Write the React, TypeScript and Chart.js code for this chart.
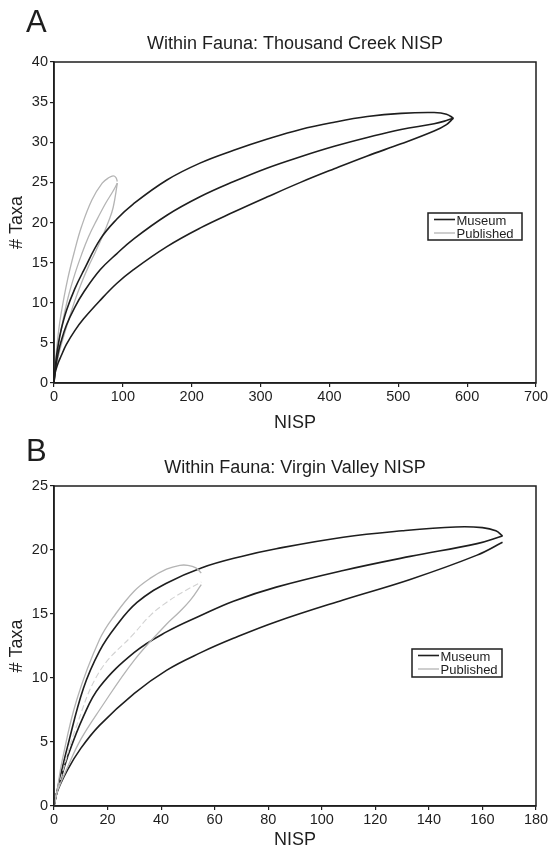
import React, { useEffect, useRef } from "react";
import { Chart, registerables } from "chart.js";

Chart.register(...registerables);

const FONT = "'Liberation Sans', Arial, Helvetica, sans-serif";
const INK = "#1e1e1e";
const GRAY = "#b4b4b4";
const GRAY_LIGHT = "#d2d2d2";

// ---------- Panel A: Thousand Creek ----------
const titleA = "Within Fauna: Thousand Creek NISP";
const xTicksA = { min: 0, max: 700, step: 100 };
const yTicksA = { min: 0, max: 40, step: 5 };

const nispA_museum = [0, 1, 3, 6, 10, 18, 30, 43, 67, 91, 115, 164, 212, 261, 310, 358, 407, 455, 504, 552, 570, 580];
const taxaA_museumUpper = [0, 1, 2.9, 4.7, 6.5, 9.0, 11.7, 14.0, 17.9, 20.4, 22.3, 25.3, 27.4, 29.0, 30.4, 31.6, 32.5, 33.2, 33.6, 33.7, 33.5, 33.0];
const taxaA_museumMean = [0, 1, 2.3, 3.7, 5.1, 7.2, 9.4, 11.3, 14.1, 16.1, 17.9, 20.9, 23.2, 25.1, 26.8, 28.2, 29.5, 30.6, 31.6, 32.3, 32.7, 33.0];
const taxaA_museumLower = [0, 1, 1.7, 2.5, 3.3, 4.8, 6.5, 8.0, 10.3, 12.4, 14.1, 17.0, 19.3, 21.3, 23.2, 25.0, 26.7, 28.3, 29.8, 31.4, 32.2, 33.0];

const nispA_pubUpper = [0, 1, 3, 6, 10, 20, 30, 40, 55, 70, 80, 86, 90, 92];
const taxaA_pubUpper = [0, 1, 3.5, 6, 8.5, 13, 16.5, 19.5, 22.8, 24.9, 25.6, 25.8, 25.6, 25.1];
const nispA_pubMean = [0, 1, 3, 6, 10, 20, 30, 40, 50, 62, 75, 85, 92];
const taxaA_pubMean = [0, 1, 2.6, 4.5, 6.5, 10.5, 13.5, 16, 18.2, 20.3, 22.4, 23.8, 24.9];
const nispA_pubLower = [0, 1, 3, 6, 10, 20, 30, 40, 50, 60, 70, 80, 86, 92];
const taxaA_pubLower = [0, 1, 2, 3.2, 4.6, 7.5, 10.2, 12.5, 14.5, 16.3, 18.2, 20.3, 21.9, 24.9];

// ---------- Panel B: Virgin Valley ----------
const titleB = "Within Fauna: Virgin Valley NISP";
const xTicksB = { min: 0, max: 180, step: 20 };
const yTicksB = { min: 0, max: 25, step: 5 };

const nispB_museumUpper = [0, 1, 2, 5, 11, 17, 23, 31, 42, 55, 70, 83, 108, 130, 150, 160, 165, 167.5];
const taxaB_museumUpper = [0, 1, 2, 4.6, 9.2, 12.1, 14.0, 15.9, 17.4, 18.6, 19.5, 20.1, 21.0, 21.5, 21.8, 21.75, 21.5, 21.1];
const nispB_museumMean = [0, 1, 2, 5, 11, 17, 30, 42, 55, 67, 83, 108, 133, 158, 167.5];
const taxaB_museumMean = [0, 1, 1.7, 3.8, 7.0, 9.3, 12.0, 13.6, 14.9, 16.0, 17.1, 18.4, 19.5, 20.5, 21.1];
const nispB_museumLower = [0, 1, 5, 10, 17, 30, 42, 55, 67, 83, 108, 133, 158, 167.5];
const taxaB_museumLower = [0, 1, 2.8, 4.5, 6.3, 8.8, 10.6, 12.0, 13.1, 14.4, 16.1, 17.7, 19.6, 20.6];

const nispB_pubUpper = [0, 1, 3, 8.5, 17, 23, 30, 36, 42, 47, 50, 53, 55];
const taxaB_pubUpper = [0, 1, 3.5, 8.3, 13.0, 15.0, 16.8, 17.8, 18.5, 18.8, 18.8, 18.6, 18.2];
const nispB_pubMean = [0, 1, 3, 8, 17, 30, 36, 42, 48, 55];
const taxaB_pubMean = [0, 1, 2.5, 6, 10.5, 13.5, 14.9, 15.9, 16.7, 17.5];
const nispB_pubLower = [0, 1, 5, 10, 17, 30, 42, 47, 51, 55];
const taxaB_pubLower = [0, 1, 3, 5.2, 7.5, 11.4, 14.2, 15.2, 16.1, 17.3];

const seriesNames = ["Museum", "Published"];
const xTitle = "NISP";
const yTitle = "# Taxa";

type Pt = { x: number; y: number };
const zip = (xs: number[], ys: number[]): Pt[] => xs.map((x, i) => ({ x, y: ys[i] }));

function lineDs(label: string, data: Pt[], color: string, width: number, dash: number[] = []) {
  return {
    label,
    data,
    borderColor: color,
    backgroundColor: color,
    borderWidth: width,
    borderDash: dash,
    pointRadius: 0,
    fill: false,
    tension: 0.4,
  };
}

const decorPlugin = {
  id: "decor",
  afterDraw(chart: any) {
    const o = chart.options.plugins.decor;
    const { ctx, chartArea: ca } = chart;
    ctx.save();
    // frame
    ctx.strokeStyle = INK;
    ctx.lineWidth = 1.5;
    ctx.strokeRect(ca.left, ca.top, ca.right - ca.left, ca.bottom - ca.top);
    const cx = (ca.left + ca.right) / 2;
    const cy = (ca.top + ca.bottom) / 2;
    ctx.fillStyle = INK;
    // panel letter
    ctx.font = `31px ${FONT}`;
    ctx.textAlign = "left";
    ctx.textBaseline = "alphabetic";
    ctx.fillText(o.letter, 26, o.letterBaseline);
    // title
    ctx.font = `18px ${FONT}`;
    ctx.textAlign = "center";
    ctx.fillText(o.title, cx, o.titleBaseline);
    // x title
    ctx.font = `18px ${FONT}`;
    ctx.fillText(xTitle, cx, ca.bottom + o.xTitleOffset);
    // y title
    ctx.save();
    ctx.translate(22, cy);
    ctx.rotate(-Math.PI / 2);
    ctx.textAlign = "center";
    ctx.fillText(yTitle, 0, 0);
    ctx.restore();
    // legend
    const L = o.legend;
    ctx.lineWidth = 1.5;
    ctx.strokeStyle = INK;
    ctx.fillStyle = "#fff";
    ctx.fillRect(L.x, L.y, L.w, L.h);
    ctx.strokeRect(L.x, L.y, L.w, L.h);
    const cols = [INK, GRAY];
    ctx.font = `13px ${FONT}`;
    ctx.textAlign = "left";
    seriesNames.forEach((name, i) => {
      const ly = L.y + 6.5 + i * 13.5;
      ctx.strokeStyle = cols[i];
      ctx.lineWidth = i === 0 ? 1.6 : 1.3;
      ctx.beginPath();
      ctx.moveTo(L.x + 6, ly);
      ctx.lineTo(L.x + 27, ly);
      ctx.stroke();
      ctx.fillStyle = INK;
      ctx.fillText(name, L.x + 28.5, ly + 5);
    });
    ctx.restore();
  },
};

function makeConfig(
  datasets: any[],
  xt: { min: number; max: number; step: number },
  yt: { min: number; max: number; step: number },
  top: number,
  xHeight: number,
  decor: any
) {
  const tickFont = { family: FONT, size: 14.5 };
  return {
    type: "line",
    data: { datasets },
    plugins: [decorPlugin],
    options: {
      animation: false,
      responsive: false,
      maintainAspectRatio: false,
      layout: { padding: { left: 0, top, right: 16, bottom: 0 } },
      plugins: {
        legend: { display: false },
        title: { display: false },
        tooltip: { enabled: false },
        decor,
      },
      elements: { point: { radius: 0 } },
      scales: {
        x: {
          type: "linear",
          min: xt.min,
          max: xt.max,
          ticks: { stepSize: xt.step, font: tickFont, color: INK, padding: 1, maxRotation: 0, autoSkip: false },
          grid: { drawOnChartArea: false, drawTicks: true, tickLength: 4, color: INK, lineWidth: 1.2 },
          border: { color: INK, width: 1.5 },
          afterFit: (s: any) => {
            s.height = xHeight;
          },
        },
        y: {
          type: "linear",
          min: yt.min,
          max: yt.max,
          ticks: { stepSize: yt.step, font: tickFont, color: INK, padding: 2, autoSkip: false },
          grid: { drawOnChartArea: false, drawTicks: true, tickLength: 4, color: INK, lineWidth: 1.2 },
          border: { color: INK, width: 1.5 },
          afterFit: (s: any) => {
            s.width = 54;
          },
        },
      },
    },
  };
}

function ChartCanvas({ config, width, height }: { config: any; width: number; height: number }) {
  const ref = useRef<HTMLCanvasElement | null>(null);
  useEffect(() => {
    if (!ref.current) return;
    const chart = new Chart(ref.current, config);
    return () => chart.destroy();
  }, [config]);
  return <canvas ref={ref} width={width} height={height} style={{ display: "block", width, height }} />;
}

const datasetsA = [
  lineDs("Museum", zip(nispA_museum, taxaA_museumUpper), INK, 1.6),
  lineDs("Museum mean", zip(nispA_museum, taxaA_museumMean), INK, 1.6),
  lineDs("Museum lower", zip(nispA_museum, taxaA_museumLower), INK, 1.6),
  lineDs("Published", zip(nispA_pubUpper, taxaA_pubUpper), GRAY, 1.3),
  lineDs("Published mean", zip(nispA_pubMean, taxaA_pubMean), GRAY, 1.3),
  lineDs("Published lower", zip(nispA_pubLower, taxaA_pubLower), GRAY, 1.3),
];

const datasetsB = [
  lineDs("Published", zip(nispB_pubUpper, taxaB_pubUpper), GRAY, 1.3),
  lineDs("Published mean", zip(nispB_pubMean, taxaB_pubMean), GRAY_LIGHT, 1.1, [6, 3]),
  lineDs("Published lower", zip(nispB_pubLower, taxaB_pubLower), GRAY, 1.3),
  lineDs("Museum", zip(nispB_museumUpper, taxaB_museumUpper), INK, 1.6),
  lineDs("Museum mean", zip(nispB_museumMean, taxaB_museumMean), INK, 1.6),
  lineDs("Museum lower", zip(nispB_museumLower, taxaB_museumLower), INK, 1.6),
];

const configA = makeConfig(datasetsA, xTicksA, yTicksA, 62, 47, {
  letter: "A",
  letterBaseline: 32,
  title: titleA,
  titleBaseline: 49,
  xTitleOffset: 45,
  legend: { x: 428, y: 213, w: 94, h: 27 },
});

const configB = makeConfig(datasetsB, xTicksB, yTicksB, 56, 43, {
  letter: "B",
  letterBaseline: 31,
  title: titleB,
  titleBaseline: 43,
  xTitleOffset: 39,
  legend: { x: 412, y: 219, w: 90, h: 28 },
});

export default function App() {
  return (
    <div style={{ position: "absolute", left: 0, top: 0, width: 552, height: 849, background: "#fff" }}>
      <ChartCanvas config={configA} width={552} height={430} />
      <ChartCanvas config={configB} width={552} height={419} />
    </div>
  );
}
